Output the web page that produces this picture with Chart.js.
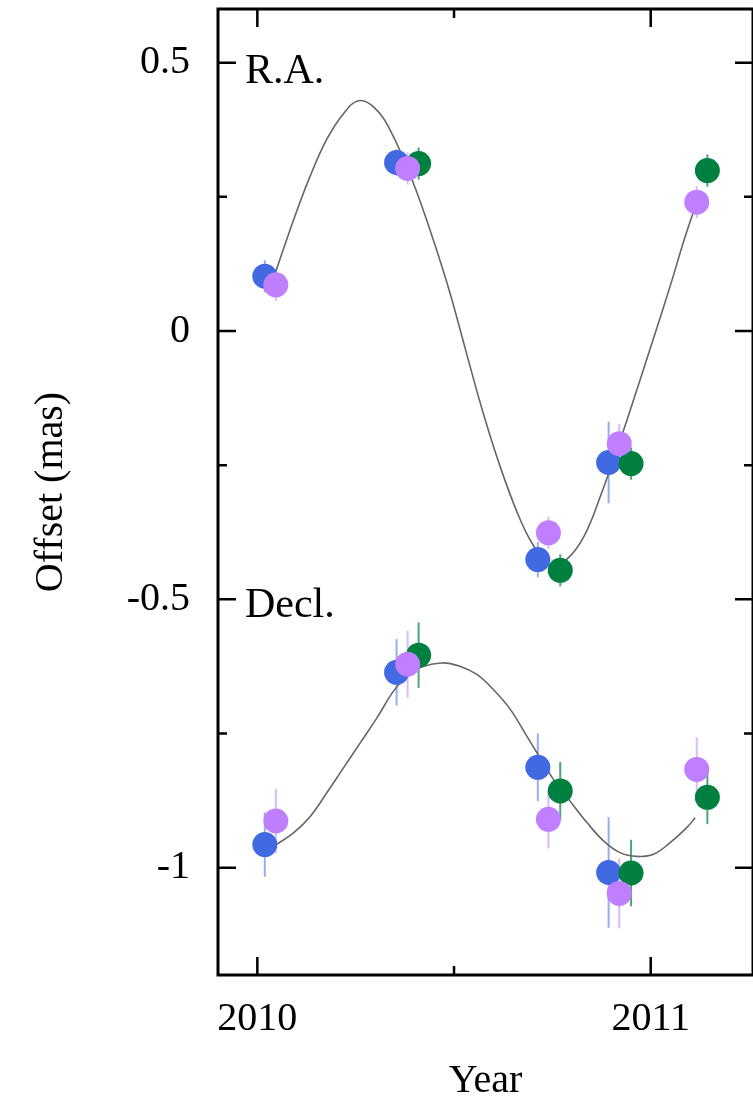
<!DOCTYPE html>
<html>
<head>
<meta charset="utf-8">
<script src="https://cdn.jsdelivr.net/npm/chart.js@4.4.0/dist/chart.umd.min.js"></script>
<style>
  html, body { margin: 0; padding: 0; background: #fff; overflow: hidden; }
  #offsetChart { display: block; }
</style>
</head>
<body>
<canvas id="offsetChart" width="753" height="1102"></canvas>
<script>
// observing epochs (year) for each series
const blueT = [2010.019, 2010.354, 2010.713, 2010.893];
const purpleT = [2010.047, 2010.382, 2010.74, 2010.92, 2011.117];
const greenT = [2010.41, 2010.77, 2010.95, 2011.144];

// R.A. offsets (mas) and errors
const blueRA = [0.102, 0.314, -0.426, -0.245];
const blueRAErr = [0.03, 0.025, 0.033, 0.076];
const purpleRA = [0.086, 0.303, -0.376, -0.21, 0.24];
const purpleRAErr = [0.03, 0.03, 0.03, 0.037, 0.03];
const greenRA = [0.312, -0.446, -0.247, 0.299];
const greenRAErr = [0.03, 0.03, 0.03, 0.03];

// Decl. offsets (mas) and errors
const blueDec = [-0.957, -0.636, -0.813, -1.009];
const blueDecErr = [0.06, 0.062, 0.063, 0.103];
const purpleDec = [-0.913, -0.621, -0.91, -1.048, -0.817];
const purpleDecErr = [0.06, 0.062, 0.054, 0.065, 0.06];
const greenDec = [-0.604, -0.857, -1.01, -0.869];
const greenDecErr = [0.061, 0.054, 0.062, 0.05];

// fitted model curves
const raCurveT = [2010.035, 2010.092, 2010.135, 2010.177, 2010.219, 2010.257, 2010.296, 2010.338, 2010.397, 2010.448, 2010.49, 2010.533, 2010.575, 2010.617, 2010.66, 2010.698, 2010.745, 2010.787, 2010.83, 2010.872, 2010.931, 2010.96, 2011.0, 2011.05, 2011.085, 2011.117];
const raCurveY = [0.085, 0.207, 0.29, 0.358, 0.405, 0.429, 0.417, 0.374, 0.275, 0.168, 0.07, -0.045, -0.155, -0.252, -0.337, -0.395, -0.438, -0.425, -0.383, -0.308, -0.185, -0.12, -0.03, 0.085, 0.17, 0.24];
const decCurveT = [2010.035, 2010.092, 2010.135, 2010.177, 2010.219, 2010.262, 2010.304, 2010.346, 2010.38, 2010.414, 2010.469, 2010.516, 2010.558, 2010.6, 2010.643, 2010.685, 2010.72, 2010.753, 2010.795, 2010.838, 2010.88, 2010.922, 2010.965, 2011.007, 2011.05, 2011.092, 2011.113];
const decCurveY = [-0.963, -0.935, -0.904, -0.86, -0.814, -0.767, -0.721, -0.671, -0.643, -0.627, -0.6185, -0.625, -0.64, -0.668, -0.705, -0.755, -0.797, -0.836, -0.876, -0.916, -0.95, -0.972, -0.979, -0.975, -0.953, -0.925, -0.907];

// ticks
const xTickValues = [2010, 2010.5, 2011];
const xLabelled = [2010, 2011];
const yTickValues = [-1, -0.75, -0.5, -0.25, 0, 0.25, 0.5];
const yLabelled = [-1, -0.5, 0, 0.5];

const blue = "rgb(65, 105, 225)";
const purple = "rgb(191, 127, 255)";
const green = "rgb(0, 128, 64)";
const serif = "'Liberation Serif', 'Times New Roman', serif";

function pts(t, y) {
  return t.map((v, i) => ({ x: v, y: y[i] }));
}

function dots(t, y, err, color, bar, order) {
  return {
    data: pts(t, y),
    errors: err,
    barColor: bar,
    backgroundColor: color,
    borderWidth: 0,
    pointRadius: 12.5,
    pointHoverRadius: 12.5,
    showLine: false,
    order: order,
  };
}

function curve(t, y) {
  return {
    data: pts(t, y),
    showLine: true,
    borderColor: "#666",
    borderWidth: 1.6,
    pointRadius: 0,
    tension: 0.4,
    order: 10,
  };
}

const errorBars = {
  id: "errorBars",
  beforeDatasetsDraw(chart) {
    const ctx = chart.ctx;
    const xs = chart.scales.x;
    const ys = chart.scales.y;
    ctx.save();
    ctx.lineWidth = 2;
    chart.data.datasets.forEach((ds) => {
      if (!ds.errors) return;
      ctx.strokeStyle = ds.barColor;
      ds.data.forEach((p, j) => {
        const px = xs.getPixelForValue(p.x);
        ctx.beginPath();
        ctx.moveTo(px, ys.getPixelForValue(p.y - ds.errors[j]));
        ctx.lineTo(px, ys.getPixelForValue(p.y + ds.errors[j]));
        ctx.stroke();
      });
    });
    ctx.restore();
  },
};

const frame = {
  id: "frame",
  afterDraw(chart) {
    const ctx = chart.ctx;
    const { left, right, top, bottom } = chart.chartArea;
    const xs = chart.scales.x;
    const ys = chart.scales.y;
    ctx.save();
    ctx.strokeStyle = "#000";
    ctx.lineWidth = 2.5;
    ctx.beginPath();
    yTickValues.forEach((v) => {
      const py = ys.getPixelForValue(v);
      const len = yLabelled.includes(v) ? 18 : 9;
      ctx.moveTo(left, py);
      ctx.lineTo(left + len, py);
      ctx.moveTo(right, py);
      ctx.lineTo(right - len, py);
    });
    xTickValues.forEach((v) => {
      const px = xs.getPixelForValue(v);
      const len = xLabelled.includes(v) ? 18 : 9;
      ctx.moveTo(px, bottom);
      ctx.lineTo(px, bottom - len);
      ctx.moveTo(px, top);
      ctx.lineTo(px, top + len);
    });
    ctx.stroke();
    ctx.lineWidth = 3;
    ctx.strokeRect(left, top, right - left, bottom - top);

    ctx.fillStyle = "#000";
    ctx.font = "42px " + serif;
    ctx.textAlign = "left";
    ctx.textBaseline = "alphabetic";
    ctx.fillText("R.A.", left + 27, top + 74);
    ctx.fillText("Decl.", left + 27, top + 608);
    ctx.restore();
  },
};

const tickFont = { family: serif, size: 40 };

new Chart(document.getElementById("offsetChart"), {
  type: "scatter",
  data: {
    datasets: [
      curve(raCurveT, raCurveY),
      curve(decCurveT, decCurveY),
      dots(blueT, blueRA, blueRAErr, blue, "rgba(65, 105, 225, 0.55)", 3),
      dots(greenT, greenRA, greenRAErr, green, "rgba(0, 128, 64, 0.7)", 2),
      dots(purpleT, purpleRA, purpleRAErr, purple, "rgba(191, 127, 255, 0.55)", 1),
      dots(blueT, blueDec, blueDecErr, blue, "rgba(65, 105, 225, 0.55)", 3),
      dots(greenT, greenDec, greenDecErr, green, "rgba(0, 128, 64, 0.7)", 2),
      dots(purpleT, purpleDec, purpleDecErr, purple, "rgba(191, 127, 255, 0.55)", 1),
    ],
  },
  options: {
    responsive: false,
    animation: false,
    devicePixelRatio: 1,
    layout: { autoPadding: false, padding: { top: 9, right: 0, left: 0, bottom: 0 } },
    plugins: {
      legend: { display: false },
      tooltip: { enabled: false },
    },
    scales: {
      x: {
        type: "linear",
        min: 2009.9,
        max: 2011.26,
        afterFit: (s) => {
          s.height = 127;
          s.paddingLeft = 0;
          s.paddingRight = 0;
        },
        afterBuildTicks: (s) => { s.ticks = xTickValues.map((v) => ({ value: v })); },
        grid: { display: false, drawTicks: false },
        border: { display: false },
        ticks: {
          padding: 20,
          maxRotation: 0,
          autoSkip: false,
          color: "#000",
          font: tickFont,
          callback: (v) => (xLabelled.includes(v) ? String(v) : ""),
        },
        title: {
          display: true,
          text: "Year",
          color: "#000",
          font: { family: serif, size: 40, lineHeight: 1 },
          padding: { top: 0, bottom: 1 },
        },
      },
      y: {
        type: "linear",
        min: -1.2,
        max: 0.6,
        afterFit: (s) => {
          s.width = 218;
          s.paddingTop = 0;
          s.paddingBottom = 0;
        },
        afterBuildTicks: (s) => { s.ticks = yTickValues.map((v) => ({ value: v })); },
        grid: { display: false, drawTicks: false },
        border: { display: false },
        ticks: {
          padding: 28,
          color: "#000",
          font: tickFont,
          callback: (v) => (yLabelled.includes(v) ? String(v) : ""),
        },
        title: {
          display: true,
          text: "Offset (mas)",
          color: "#000",
          font: { family: serif, size: 40, lineHeight: 1 },
          padding: { top: 31, bottom: 0 },
        },
      },
    },
  },
  plugins: [errorBars, frame],
});
</script>
</body>
</html>
